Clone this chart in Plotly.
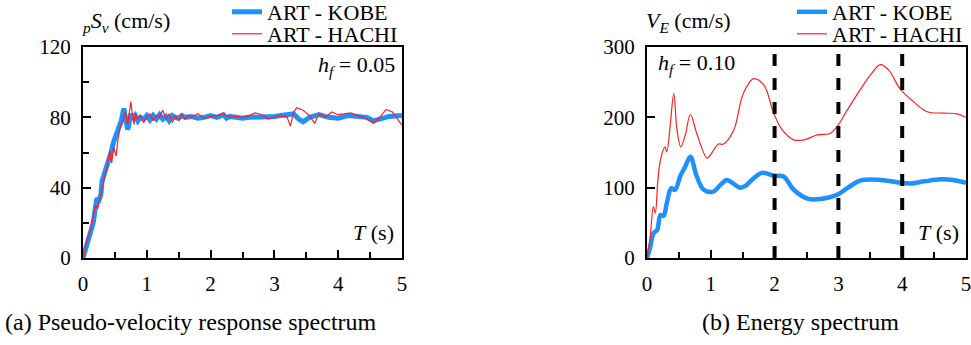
import plotly.graph_objects as go

# ---------------- data ----------------
# (a) pseudo-velocity response spectrum
t_a_kobe = [0, 0.04, 0.08, 0.12, 0.16, 0.2, 0.22, 0.25, 0.28, 0.3, 0.33, 0.36, 0.4, 0.44, 0.48, 0.52,
            0.56, 0.6, 0.64, 0.67, 0.7, 0.72, 0.75, 0.78, 0.82, 0.86, 0.9, 0.95, 1.0, 1.05, 1.1, 1.15,
            1.2, 1.25, 1.3, 1.35, 1.4, 1.45, 1.5, 1.55, 1.6, 1.7, 1.8, 1.9, 2.0, 2.1, 2.2, 2.25, 2.3,
            2.4, 2.5, 2.6, 2.8, 3.0, 3.1, 3.2, 3.3, 3.38, 3.45, 3.55, 3.7, 3.85, 4.0, 4.15, 4.3, 4.45,
            4.55, 4.65, 4.8, 5.0]
sv_kobe = [0, 5, 10, 15, 20, 30, 34, 33, 36, 44, 47, 50, 55, 60, 66, 70,
           75, 78, 85, 80, 73, 76, 82, 79, 81, 78, 80, 79, 81, 78.5, 81, 79,
           81.5, 79, 80.5, 78, 81, 80, 79.5, 81, 80, 80.5, 79.5, 80, 81, 80, 81.5, 79.5, 80.5,
           80, 79.5, 80, 80, 80.5, 81, 81.5, 82, 79, 77.5, 80, 81.5, 80, 79.5, 81, 80.5, 80,
           78, 79, 80.5, 81]

t_a_hachi = [0, 0.03, 0.06, 0.1, 0.13, 0.16, 0.2, 0.23, 0.26, 0.3, 0.34, 0.38, 0.42, 0.45, 0.48, 0.52,
             0.55, 0.58, 0.62, 0.66, 0.7, 0.73, 0.75, 0.78, 0.8, 0.82, 0.85, 0.9, 0.95, 1.0, 1.05, 1.1,
             1.15, 1.2, 1.25, 1.3, 1.35, 1.4, 1.45, 1.5, 1.55, 1.6, 1.65, 1.7, 1.8, 1.9, 2.0, 2.1, 2.2,
             2.3, 2.4, 2.5, 2.6, 2.7, 2.8, 2.9, 3.0, 3.1, 3.2, 3.25, 3.3, 3.35, 3.45, 3.55, 3.63, 3.7,
             3.8, 3.9, 4.0, 4.1, 4.2, 4.3, 4.4, 4.5, 4.55, 4.65, 4.75, 4.85, 4.95, 5.0]
sv_hachi = [0, 6, 10, 14, 18, 24, 30, 28, 34, 40, 46, 52, 61, 54, 63, 58,
            68, 74, 77, 83, 76, 84, 89, 80, 76, 82, 79, 81, 77, 80, 82, 78,
            81, 80, 84, 79, 82, 77, 81, 78, 82, 79, 81, 80, 82, 79.5, 80.5, 81, 82,
            80, 80.5, 80, 81, 82.5, 81.5, 79, 80, 81, 80, 75, 83, 85.5, 84, 81, 76.5, 82,
            80, 83, 81.5, 82, 82.5, 81, 80, 78, 76.5, 80, 84.5, 83, 78, 75.5]

# (b) energy spectrum
t_b_kobe = [0, 0.05, 0.1, 0.16, 0.21, 0.26, 0.31, 0.38, 0.44, 0.52, 0.6, 0.68, 0.78, 0.89, 1.04,
            1.15, 1.25, 1.35, 1.46, 1.55, 1.62, 1.8, 1.99, 2.14, 2.3, 2.53, 2.72, 2.98, 3.15, 3.34,
            3.66, 3.97, 4.13, 4.35, 4.6, 4.8, 5.0]
ve_kobe = [0, 15, 35, 40, 61, 60, 78, 99, 97, 116, 130, 144, 116, 97, 94.5,
           104, 111, 106, 100, 103, 109, 121, 117, 116, 97, 84, 84, 90, 100, 110,
           111, 107, 106, 109, 112, 111, 107]

t_b_hachi = [0, 0.05, 0.1, 0.13, 0.17, 0.21, 0.28, 0.31, 0.36, 0.42, 0.47, 0.53, 0.6, 0.68, 0.78,
             0.94, 0.99, 1.12, 1.2, 1.36, 1.51, 1.67, 1.83, 1.99, 2.12, 2.3, 2.46, 2.67, 2.87, 2.98,
             3.15, 3.34, 3.5, 3.66, 3.79, 3.97, 4.18, 4.39, 4.65, 4.86, 5.0]
ve_hachi = [0, 30, 73, 64, 110, 139, 158, 151, 185, 234, 182, 158, 175, 204, 177,
            142, 146, 162, 162, 182, 234, 255, 246, 205, 182, 168, 168, 175, 177, 187,
            212, 239, 260, 275, 267, 240, 222, 208, 206, 205, 200]

dash_periods = [2, 3, 4]

# ---------------- figure ----------------
FONT = "Liberation Serif"
BLUE = "#1E90FF"
RED = "#FF2020"
W, H = 971, 345

fig = go.Figure()
fig.add_trace(go.Scatter(x=t_a_kobe, y=sv_kobe, mode="lines", name="ART - KOBE",
                         line=dict(color=BLUE, width=5), xaxis="x", yaxis="y", legend="legend"))
fig.add_trace(go.Scatter(x=t_a_hachi, y=sv_hachi, mode="lines", name="ART - HACHI",
                         line=dict(color=RED, width=1.2), xaxis="x", yaxis="y", legend="legend2"))
fig.add_trace(go.Scatter(x=t_b_kobe, y=ve_kobe, mode="lines", name="ART - KOBE",
                         line=dict(color=BLUE, width=4.5, shape="spline"), xaxis="x2", yaxis="y2",
                         legend="legend3"))
fig.add_trace(go.Scatter(x=t_b_hachi, y=ve_hachi, mode="lines", name="ART - HACHI",
                         line=dict(color=RED, width=1.2, shape="spline"), xaxis="x2", yaxis="y2",
                         legend="legend4"))

for p in dash_periods:
    fig.add_shape(type="line", xref="x2", yref="y2", x0=p, x1=p, y0=0, y1=300,
                  line=dict(color="black", width=4, dash="dash"))

ydom = [1 - 258 / H, 1 - 47 / H]
axis_common = dict(showline=True, linecolor="black", linewidth=2, mirror=True,
                   ticks="inside", ticklen=8, tickwidth=2, tickcolor="black",
                   showgrid=False, zeroline=False, automargin=False,
                   ticklabeloverflow="allow",
                   tickfont=dict(family=FONT, size=21, color="black"))
minor_x = dict(dtick=0.5, ticks="inside", ticklen=6, tickwidth=2, tickcolor="black")


def leg(xpx, ypx):
    return dict(x=xpx / W, y=1 - ypx / H, xanchor="left", yanchor="middle",
                bgcolor="rgba(0,0,0,0)", borderwidth=0,
                font=dict(family=FONT, size=22, color="black"), itemwidth=30)


fig.update_layout(
    width=W, height=H,
    margin=dict(l=0, r=0, t=0, b=0, autoexpand=False),
    paper_bgcolor="white", plot_bgcolor="white",
    font=dict(family=FONT, color="black"),
    xaxis=dict(domain=[83 / W, 402 / W], range=[0, 5], dtick=1, minor=minor_x,
               ticklabelstandoff=6, anchor="y", **axis_common),
    yaxis=dict(domain=ydom, range=[0, 120], dtick=40,
               minor=dict(dtick=20, ticks="inside", ticklen=6, tickwidth=2, tickcolor="black"),
               ticklabelstandoff=6, anchor="x", **axis_common),
    xaxis2=dict(domain=[647 / W, 966 / W], range=[0, 5], dtick=1, minor=minor_x,
                ticklabelstandoff=6, anchor="y2", **axis_common),
    yaxis2=dict(domain=ydom, range=[0, 300], dtick=100, ticklabelstandoff=6,
                anchor="x2", **axis_common),
    legend=leg(227, 12),
    legend2=leg(227, 34),
    legend3=leg(792, 12),
    legend4=leg(792, 34),
    showlegend=True,
)

ann_font = dict(family=FONT, size=22, color="black")
annotations = [
    dict(text="<sub><i>p</i></sub><i>S</i><sub><i>v</i></sub> (cm/s)", x=80 / W, y=1 - 22 / H,
         xanchor="left", yanchor="middle"),
    dict(text="<i>V</i><sub><i>E</i></sub> (cm/s)", x=644 / W, y=1 - 22 / H,
         xanchor="left", yanchor="middle"),
    dict(text="<i>h</i><sub><i>f</i></sub> = 0.05", x=397 / W, y=1 - 66 / H,
         xanchor="right", yanchor="middle"),
    dict(text="<i>h</i><sub><i>f</i></sub> = 0.10", x=656 / W, y=1 - 64 / H,
         xanchor="left", yanchor="middle"),
    dict(text="<i>T</i> (s)", x=396 / W, y=1 - 232 / H, xanchor="right", yanchor="middle"),
    dict(text="<i>T</i> (s)", x=961 / W, y=1 - 232 / H, xanchor="right", yanchor="middle"),
    dict(text="(a) Pseudo-velocity response spectrum", x=191 / W, y=1 - 322 / H,
         xanchor="center", yanchor="middle", font=dict(family=FONT, size=24, color="black")),
    dict(text="(b) Energy spectrum", x=800 / W, y=1 - 322 / H,
         xanchor="center", yanchor="middle", font=dict(family=FONT, size=24, color="black")),
]
for a in annotations:
    a.setdefault("font", ann_font)
    fig.add_annotation(xref="paper", yref="paper", showarrow=False, **a)

fig.write_html("out.html", config={"displayModeBar": False},
               post_script="document.body.style.margin='0px';")
